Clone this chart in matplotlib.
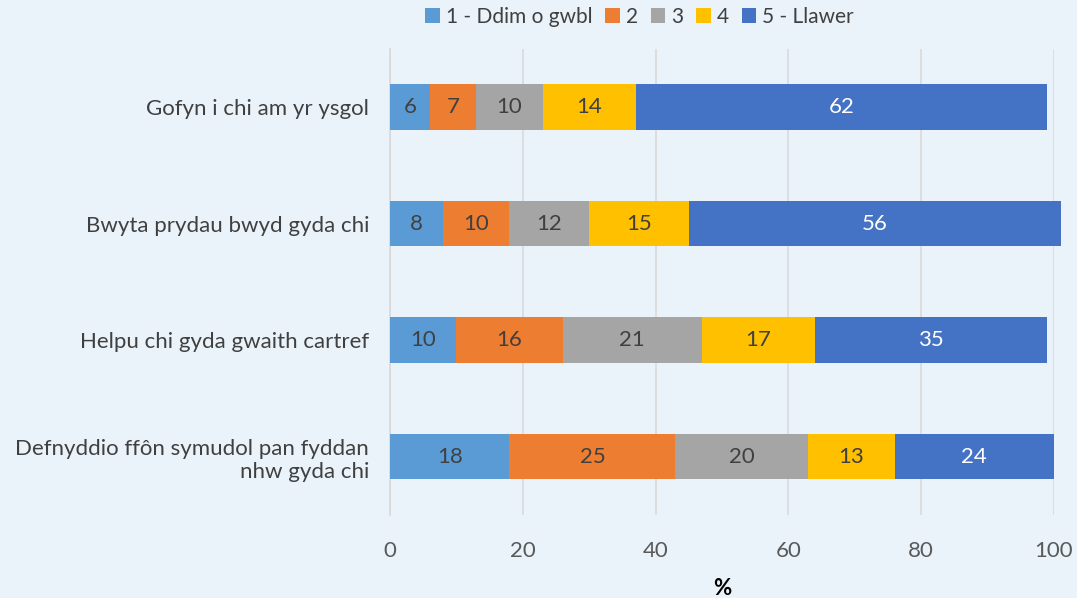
import numpy as np
import matplotlib.pyplot as plt

plt.rcParams['font.family'] = ['Lato', 'DejaVu Sans']

categories = ['Gofyn i chi am yr ysgol',
              'Bwyta prydau bwyd gyda chi',
              'Helpu chi gyda gwaith cartref',
              'Defnyddio ffôn symudol pan fyddan\nnhw gyda chi']
series_names = ['1 - Ddim o gwbl', '2', '3', '4', '5 - Llawer']
values = [
    [6, 8, 10, 18],
    [7, 10, 16, 25],
    [10, 12, 21, 20],
    [14, 15, 17, 13],
    [62, 56, 35, 24],
]
colors = ['#5B9BD5', '#ED7D31', '#A5A5A5', '#FFC000', '#4472C4']
text_colors = ['#404040', '#404040', '#404040', '#404040', 'white']

bg = '#EAF3FA'
fig = plt.figure(figsize=(10.77, 5.98), dpi=100, facecolor=bg)
ax = fig.add_axes([0.3621, 0.1388, 0.6165, 0.7794], facecolor=bg)

y = np.arange(len(categories))
left = np.zeros(len(categories))
for name, vals, c, tc in zip(series_names, values, colors, text_colors):
    vals = np.array(vals, dtype=float)
    bars = ax.barh(y, vals, left=left, height=0.39, color=c, label=name,
                   edgecolor='none', zorder=3, clip_on=False)
    for b, v in zip(bars, vals):
        ax.text(b.get_x() + b.get_width() / 2, b.get_y() + b.get_height() / 2,
                f'{v:g}', ha='center', va='center', color=tc, fontsize=16, zorder=4)
    left += vals

ax.set_xlim(0, 100)
ax.set_ylim(len(categories) - 0.5, -0.5)
ax.set_yticks(y)
ax.set_yticklabels(categories, fontsize=16, color='#404040', ha='right', linespacing=1.2)
ax.set_xticks(np.arange(0, 101, 20))
ax.tick_params(axis='x', labelsize=16, labelcolor='#595959', length=0, pad=19)
ax.tick_params(axis='y', length=0, pad=15)
ax.grid(axis='x', color='#D9D9D9', linewidth=1.2, zorder=0)
for s in ['top', 'right', 'bottom']:
    ax.spines[s].set_visible(False)
ax.spines['left'].set_color('#D9D9D9')
ax.spines['left'].set_linewidth(1.2)
ax.set_xlabel('%', fontsize=16, fontweight='bold', color='black', labelpad=12)

ax.legend(loc='upper center', bbox_to_anchor=(0.376, 1.13), ncol=5, frameon=False,
          fontsize=15, labelcolor='#404040', handlelength=0.7, handleheight=0.7,
          handletextpad=0.3, columnspacing=0.6)

fig.savefig('out.png', facecolor=bg)
